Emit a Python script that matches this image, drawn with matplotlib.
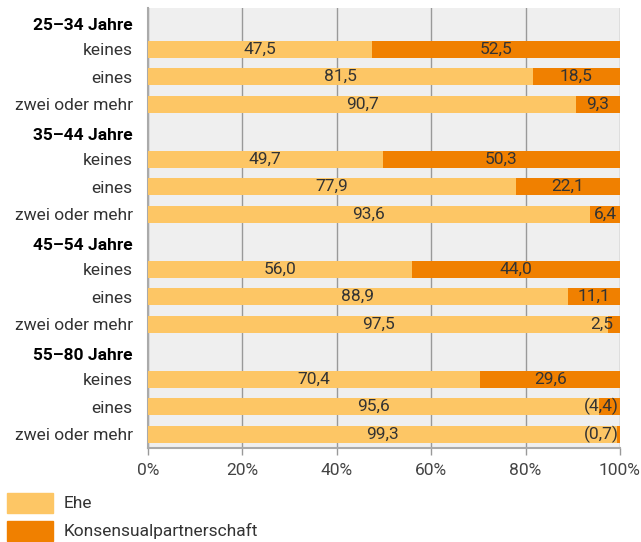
import matplotlib.pyplot as plt
from matplotlib.patches import Rectangle

plt.rcParams['font.family'] = ['Roboto', 'DejaVu Sans']
plt.rcParams['font.weight'] = 'normal'

groups = ['25–34 Jahre', '35–44 Jahre', '45–54 Jahre', '55–80 Jahre']
kinder = ['keines', 'eines', 'zwei oder mehr']
ehe = [47.5, 81.5, 90.7,
       49.7, 77.9, 93.6,
       56.0, 88.9, 97.5,
       70.4, 95.6, 99.3]
konsens = [52.5, 18.5, 9.3,
           50.3, 22.1, 6.4,
           44.0, 11.1, 2.5,
           29.6, 4.4, 0.7]
in_klammern = [False, False, False,
               False, False, False,
               False, False, False,
               False, True, True]
serien = ['Ehe', 'Konsensualpartnerschaft']

col_ehe = '#fdc665'
col_kons = '#f08000'
txt_col = '#333333'
fs = 12.5


def fmt(v):
    return ('%.1f' % v).replace('.', ',')


fig = plt.figure(figsize=(6.41, 5.42), dpi=100)
ax = fig.add_axes([148 / 641, 1 - 448 / 542, 472 / 641, 440 / 542])
ax.set_facecolor('#efefef')

ypos = []
ylabels = []
bold = []
bar_y = []
row = 0
for g in range(len(groups)):
    ypos.append(row + 0.08)
    ylabels.append(groups[g])
    bold.append(True)
    row += 1
    for k in range(len(kinder)):
        ypos.append(row)
        ylabels.append(kinder[k])
        bold.append(False)
        bar_y.append(row)
        row += 1

h = 0.63
ax.barh(bar_y, ehe, height=h, color=col_ehe, zorder=3)
ax.barh(bar_y, konsens, left=ehe, height=h, color=col_kons, zorder=3)

for y, e, k, kl in zip(bar_y, ehe, konsens, in_klammern):
    ax.text(e / 2, y, fmt(e), ha='center', va='center', fontsize=fs,
            color=txt_col, zorder=4)
    s = '(%s)' % fmt(k) if kl else fmt(k)
    if k < 5:
        x = 99.8 if kl else 98.6
        ax.text(x, y, s, ha='right', va='center', fontsize=fs,
                color=txt_col, zorder=4)
    else:
        ax.text(e + k / 2, y, s, ha='center', va='center', fontsize=fs,
                color=txt_col, zorder=4)

ax.set_xlim(0, 100)
ax.set_ylim(row - 0.5, -0.5)
ax.set_xticks([0, 20, 40, 60, 80, 100])
ax.set_xticklabels(['0%', '20%', '40%', '60%', '80%', '100%'])
ax.set_yticks(ypos)
ax.set_yticklabels(ylabels)
ax.tick_params(axis='y', length=0, pad=11, labelsize=fs, labelcolor=txt_col)
ax.tick_params(axis='x', length=5, width=1, color='#999999', labelsize=fs,
               labelcolor='#444444', pad=6)
for lbl, b in zip(ax.get_yticklabels(), bold):
    if b:
        lbl.set_fontweight('bold')
        lbl.set_color('#000000')
ax.grid(axis='x', color='#999999', linewidth=1, zorder=1)
for side in ['top', 'right']:
    ax.spines[side].set_visible(False)
for side in ['left', 'bottom']:
    ax.spines[side].set_color('#aaaaaa')
    ax.spines[side].set_linewidth(1.5)

# legend drawn by hand, boxes 46x20 px
W, H = 641.0, 542.0
for i, (name, c) in enumerate(zip(serien, [col_ehe, col_kons])):
    top = 493 + i * 28
    fig.add_artist(Rectangle((7 / W, 1 - (top + 20) / H), 46 / W, 20 / H,
                             color=c, transform=fig.transFigure))
    fig.text(64 / W, 1 - (top + 10) / H, name, ha='left', va='center',
             fontsize=fs, color=txt_col)

fig.savefig('out.png', dpi=100)
